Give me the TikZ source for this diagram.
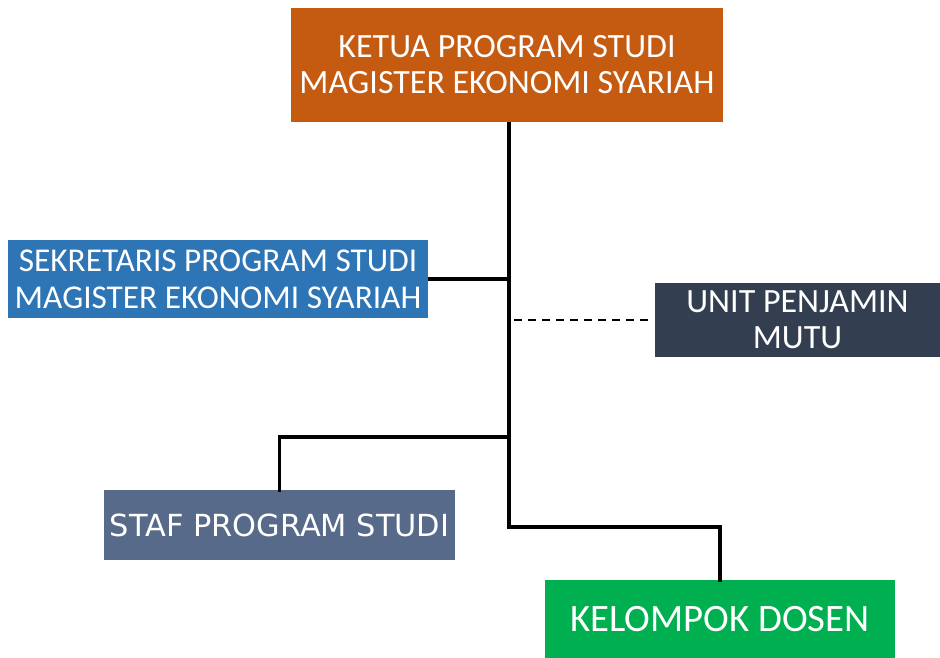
\documentclass[tikz,border=0pt]{standalone}
\usepackage{fontspec}
\setmainfont{Carlito}
\newfontfamily\staffont{DejaVu Sans}
\usetikzlibrary{positioning}

\definecolor{ketuaC}{HTML}{C55A11}
\definecolor{sekretarisC}{HTML}{2E75B6}
\definecolor{unitC}{HTML}{333F50}
\definecolor{stafC}{HTML}{586A89}
\definecolor{dosenC}{HTML}{00B050}

\begin{document}
\begin{tikzpicture}[x=1pt, y=-1pt,
    box/.style={
        text=white,
        align=center,
        inner sep=0pt,
        font=\fontsize{34}{36}\selectfont
    },
    link/.style={line width=3.5pt},
    dashlink/.style={line width=1.6pt, dash pattern=on 8pt off 6pt}]

    \useasboundingbox (0,0) rectangle (940,658);

    \node[box, fill=ketuaC, minimum width=432, minimum height=114] (Ketua) at (507,65)
        {KETUA PROGRAM STUDI\\MAGISTER EKONOMI SYARIAH};
    \node[box, fill=sekretarisC, minimum width=420, minimum height=78, font=\fontsize{33.3}{37}\selectfont] (Sekretaris) at (218,279)
        {SEKRETARIS PROGRAM STUDI\\MAGISTER EKONOMI SYARIAH};
    \node[box, fill=unitC, minimum width=285, minimum height=74] (Unit) at (797.5,320)
        {UNIT PENJAMIN\\MUTU};
    \node[box, fill=stafC, minimum width=351, minimum height=70, font=\staffont\fontsize{30.4}{32}\selectfont] (Staf) at (279.5,525)
        {STAF PROGRAM STUDI};
    \node[box, fill=dosenC, minimum width=350, minimum height=78, font=\fontsize{38.8}{40}\selectfont] (Dosen) at (720,619)
        {KELOMPOK DOSEN};

    \coordinate (Trunk) at (509,527);
    \coordinate (StafJoint) at (509,437);

    \draw[link] (Ketua.south -| Trunk) -- (Trunk) -| ([yshift=-2pt]Dosen.north);
    \draw[link] (Sekretaris.east) -- (Sekretaris.east -| Trunk);
    \draw[link] (StafJoint) -| ([yshift=-2pt]Staf.north);
    \draw[dashlink, shorten <=7pt, shorten >=3pt] (Unit.west) -- (Unit.west -| Trunk);
\end{tikzpicture}
\end{document}
